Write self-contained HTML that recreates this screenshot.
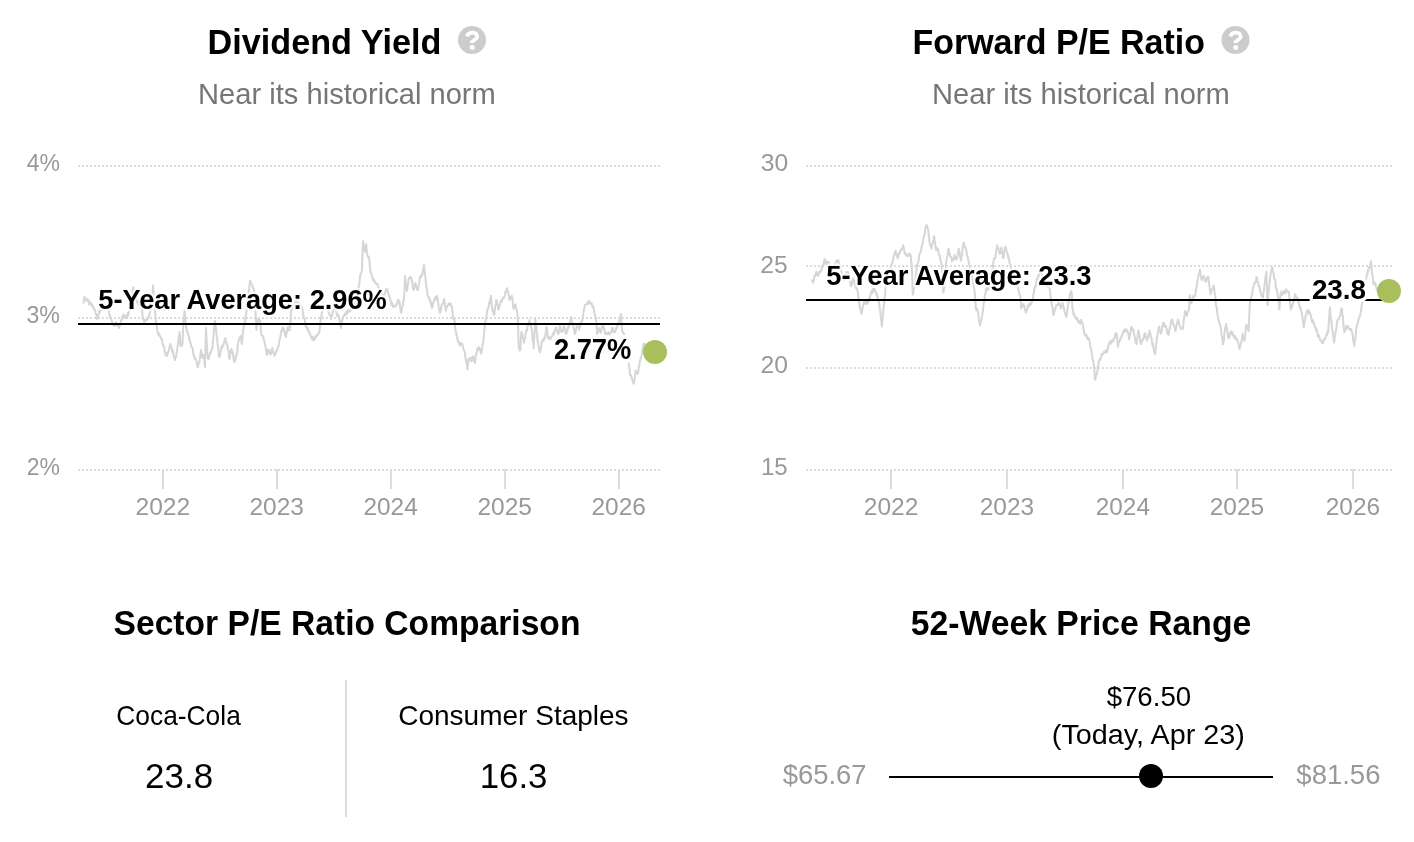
<!DOCTYPE html>
<html><head><meta charset="utf-8"><title>Valuation</title>
<style>
html,body{margin:0;padding:0;background:#fff;width:1414px;height:842px;overflow:hidden}
svg{display:block;font-family:"Liberation Sans", sans-serif;will-change:transform}
</style></head><body>
<svg width="1414" height="842" viewBox="0 0 1414 842">
<text x="207.6" y="53.8" font-size="35.7" font-weight="700" fill="#000" textLength="233.73" lengthAdjust="spacingAndGlyphs" >Dividend Yield</text>
<circle cx="472" cy="40" r="14" fill="#cccccc"/><path d="M467,36.4 C468.4,31.4 477.4,31.4 477.2,36.8 C477,39.6 471.8,40.2 471.8,43" fill="none" stroke="#fff" stroke-width="3.8" stroke-linecap="butt"/><circle cx="472.2" cy="47.5" r="2.5" fill="#fff"/>
<text x="198.09" y="104" font-size="29" font-weight="400" fill="#767676" textLength="297.75" lengthAdjust="spacingAndGlyphs" >Near its historical norm</text>
<line x1="78" y1="166" x2="660" y2="166" stroke="#dcdcdc" stroke-width="2" stroke-dasharray="2 2"/>
<text x="26.63" y="171.0" font-size="24.5" font-weight="400" fill="#999999" textLength="33.23" lengthAdjust="spacingAndGlyphs" >4%</text>
<line x1="78" y1="318" x2="660" y2="318" stroke="#dcdcdc" stroke-width="2" stroke-dasharray="2 2"/>
<text x="26.46" y="323.0" font-size="24.5" font-weight="400" fill="#999999" textLength="33.41" lengthAdjust="spacingAndGlyphs" >3%</text>
<line x1="78" y1="470" x2="660" y2="470" stroke="#dcdcdc" stroke-width="2" stroke-dasharray="2 2"/>
<text x="26.73" y="474.9" font-size="24.5" font-weight="400" fill="#999999" textLength="33.13" lengthAdjust="spacingAndGlyphs" >2%</text>
<rect x="162" y="469" width="2" height="20" fill="#dcdcdc"/>
<text x="135.44" y="514.9" font-size="24.5" font-weight="400" fill="#999999" textLength="54.83" lengthAdjust="spacingAndGlyphs" >2022</text>
<rect x="276" y="469" width="2" height="20" fill="#dcdcdc"/>
<text x="249.45" y="514.9" font-size="24.5" font-weight="400" fill="#999999" textLength="54.57" lengthAdjust="spacingAndGlyphs" >2023</text>
<rect x="390" y="469" width="2" height="20" fill="#dcdcdc"/>
<text x="363.45" y="514.9" font-size="24.5" font-weight="400" fill="#999999" textLength="54.31" lengthAdjust="spacingAndGlyphs" >2024</text>
<rect x="504" y="469" width="2" height="20" fill="#dcdcdc"/>
<text x="477.45" y="514.9" font-size="24.5" font-weight="400" fill="#999999" textLength="54.57" lengthAdjust="spacingAndGlyphs" >2025</text>
<rect x="618" y="469" width="2" height="20" fill="#dcdcdc"/>
<text x="591.45" y="514.9" font-size="24.5" font-weight="400" fill="#999999" textLength="54.57" lengthAdjust="spacingAndGlyphs" >2026</text>
<path d="M83.5,303.5 L84.0,299.0 L84.5,296.5 L85.0,297.8 L85.5,298.3 L86.0,300.0 L86.5,300.7 L87.0,301.0 L87.5,299.0 L88.0,301.0 L88.5,300.1 L89.0,304.3 L89.5,304.0 L90.0,302.7 L90.5,302.3 L91.0,303.0 L91.5,305.7 L92.0,304.4 L92.5,306.6 L93.0,306.0 L93.5,307.2 L94.0,309.2 L94.5,310.0 L95.0,309.7 L95.5,312.7 L96.0,314.8 L96.5,314.4 L97.0,319.0 L97.5,317.4 L98.0,316.6 L98.5,314.0 L98.9,313.9 L99.3,310.7 L99.8,312.6 L100.2,310.8 L100.7,310.4 L101.1,308.4 L101.6,306.5 L102.1,309.1 L102.5,306.7 L103.0,306.0 L103.5,307.1 L103.9,307.9 L104.4,307.4 L104.8,308.4 L105.3,306.5 L105.7,308.3 L106.2,307.1 L106.6,309.2 L107.1,309.2 L107.5,306.2 L108.0,308.0 L108.5,308.5 L108.9,310.9 L109.4,314.0 L109.8,317.1 L110.2,316.2 L110.6,318.3 L111.0,319.0 L111.5,319.5 L111.9,321.7 L112.4,323.0 L112.8,323.3 L113.2,323.9 L113.6,325.6 L114.0,326.0 L114.5,325.3 L115.0,325.6 L115.5,323.7 L116.0,322.0 L116.5,324.2 L117.0,324.4 L117.5,325.5 L118.0,324.0 L118.5,326.7 L119.0,328.0 L119.5,324.7 L120.0,325.4 L120.5,323.9 L121.0,320.0 L121.5,320.4 L122.0,317.8 L122.5,317.1 L123.0,315.0 L123.5,314.6 L124.0,317.8 L124.5,317.5 L125.0,318.0 L125.5,316.6 L126.0,315.3 L126.5,317.9 L127.0,316.0 L127.5,317.0 L128.0,312.4 L128.5,314.2 L129.0,312.0 L129.5,310.1 L130.0,309.0 L130.4,304.5 L130.9,302.0 L131.3,300.9 L131.7,298.2 L132.1,291.8 L132.6,291.0 L133.0,287.5 L133.5,287.2 L134.0,291.4 L134.4,291.3 L134.9,295.0 L135.4,295.0 L135.8,298.7 L136.2,298.5 L136.6,302.2 L137.0,302.0 L137.5,302.0 L138.0,301.8 L138.5,304.6 L139.0,305.0 L139.4,303.7 L139.9,304.9 L140.3,306.3 L140.7,307.7 L141.1,306.5 L141.6,306.6 L142.0,309.0 L142.5,315.5 L143.0,319.0 L143.5,318.8 L144.0,321.8 L144.5,322.1 L145.0,321.0 L145.4,320.1 L145.9,320.0 L146.3,319.8 L146.7,319.9 L147.1,319.2 L147.6,318.7 L148.0,318.0 L148.5,317.0 L149.0,316.8 L149.5,313.5 L150.0,312.0 L150.5,309.7 L150.9,308.9 L151.4,306.0 L151.8,299.8 L152.2,295.0 L152.6,292.5 L153.0,285.5 L153.5,292.1 L153.9,298.7 L154.4,305.0 L154.8,307.3 L155.2,313.2 L155.6,318.1 L156.0,322.0 L156.5,323.1 L157.0,328.0 L157.5,331.5 L158.0,334.0 L158.5,335.0 L159.0,333.2 L159.5,336.0 L160.0,336.0 L160.5,336.9 L161.0,338.7 L161.5,338.4 L162.0,340.0 L162.4,342.8 L162.9,345.0 L163.3,346.0 L163.7,345.6 L164.2,347.2 L164.6,351.2 L165.0,352.0 L165.5,354.9 L166.0,353.0 L166.5,354.8 L167.0,356.0 L167.5,354.9 L168.0,352.3 L168.5,351.0 L169.0,350.0 L169.4,347.3 L169.9,345.5 L170.3,344.0 L170.7,345.9 L171.2,346.2 L171.6,348.0 L172.0,350.0 L172.4,352.4 L172.9,350.8 L173.3,354.0 L173.7,355.8 L174.2,357.9 L174.6,357.7 L175.0,360.0 L175.5,356.9 L176.0,357.2 L176.5,353.0 L177.0,352.0 L177.5,346.7 L178.0,344.0 L178.5,339.7 L179.0,336.8 L179.5,332.0 L180.0,337.4 L180.5,346.0 L181.0,344.8 L181.5,344.3 L182.0,345.8 L182.5,344.0 L183.0,331.8 L183.5,320.0 L184.0,316.9 L184.5,311.0 L185.0,314.7 L185.5,320.3 L186.0,326.0 L186.5,328.6 L187.0,331.5 L187.5,331.8 L188.0,334.0 L188.5,334.9 L189.0,336.5 L189.5,340.1 L190.0,342.0 L190.5,342.0 L191.0,345.7 L191.5,347.1 L192.0,347.0 L192.5,348.0 L193.0,350.6 L193.5,355.0 L194.0,356.0 L194.5,357.6 L195.0,359.2 L195.5,358.4 L196.0,360.0 L196.5,360.9 L197.0,363.8 L197.5,367.0 L198.0,366.9 L198.5,363.6 L199.0,362.6 L199.5,362.0 L200.0,357.7 L200.5,353.7 L201.0,350.0 L201.5,352.3 L202.0,357.0 L202.5,358.0 L203.0,356.0 L203.5,354.7 L204.0,356.0 L204.5,363.3 L205.0,367.0 L205.5,349.0 L206.0,328.0 L206.5,338.6 L206.9,345.1 L207.4,354.0 L207.9,358.3 L208.4,359.0 L208.9,359.0 L209.4,354.4 L209.9,354.7 L210.4,352.0 L210.9,352.3 L211.4,350.7 L211.9,349.1 L212.4,348.0 L212.9,341.7 L213.4,337.0 L213.8,332.4 L214.2,327.9 L214.6,323.3 L215.0,321.0 L215.5,325.4 L215.9,328.1 L216.4,333.0 L216.8,337.7 L217.2,338.2 L217.6,345.1 L218.0,347.0 L218.5,351.1 L218.9,355.4 L219.4,357.0 L219.8,356.6 L220.2,354.6 L220.6,351.3 L221.0,349.0 L221.5,346.3 L222.0,348.5 L222.5,345.4 L223.0,346.0 L223.5,343.6 L224.0,343.5 L224.4,341.3 L224.9,339.3 L225.4,338.0 L225.8,341.5 L226.2,341.9 L226.6,342.6 L227.0,345.0 L227.5,345.7 L227.9,349.8 L228.4,350.0 L228.9,354.4 L229.4,359.0 L229.9,357.6 L230.4,353.4 L230.9,350.3 L231.4,349.0 L231.8,350.4 L232.2,352.8 L232.6,351.4 L233.0,354.0 L233.5,357.8 L233.9,361.0 L234.4,362.0 L234.9,361.7 L235.4,360.3 L235.9,355.5 L236.4,356.0 L236.9,353.0 L237.4,350.5 L237.9,343.7 L238.4,342.0 L238.9,339.6 L239.4,338.1 L239.9,337.6 L240.4,336.0 L240.8,337.7 L241.2,339.9 L241.6,343.1 L242.0,344.0 L242.5,336.0 L243.0,332.0 L243.5,328.0 L244.0,326.0 L244.5,323.7 L245.0,323.0 L245.5,316.8 L246.0,314.0 L246.5,311.6 L246.9,306.8 L247.4,301.0 L247.8,296.6 L248.2,295.5 L248.6,292.0 L249.0,290.0 L249.6,284.5 L250.1,280.5 L250.5,281.0 L251.0,283.4 L251.4,284.3 L251.8,284.5 L252.2,285.0 L252.7,286.7 L253.1,288.5 L253.6,288.2 L254.0,291.0 L254.5,297.6 L254.9,304.5 L255.4,310.0 L255.9,319.5 L256.4,330.0 L256.8,325.6 L257.2,323.2 L257.6,321.2 L258.0,319.0 L258.5,319.7 L259.0,320.6 L259.5,319.3 L260.0,320.0 L260.5,326.2 L260.9,330.5 L261.4,335.0 L261.9,335.2 L262.4,335.5 L262.9,336.5 L263.4,337.0 L263.9,340.1 L264.4,341.2 L264.9,344.5 L265.4,346.0 L265.9,348.8 L266.3,351.0 L266.8,355.0 L267.3,353.9 L267.8,353.3 L268.3,349.5 L268.8,350.0 L269.3,350.7 L269.8,351.7 L270.3,354.5 L270.8,354.0 L271.3,353.7 L271.8,349.5 L272.3,348.0 L272.7,351.2 L273.2,352.4 L273.6,351.8 L274.1,354.3 L274.5,356.0 L275.0,353.0 L275.5,354.3 L276.0,352.1 L276.5,350.0 L276.9,350.5 L277.3,349.2 L277.8,347.7 L278.2,346.9 L278.6,345.3 L279.0,344.0 L279.5,339.7 L280.0,339.0 L280.5,336.0 L281.0,332.0 L281.5,330.6 L282.0,331.1 L282.5,328.0 L283.0,327.2 L283.5,328.4 L284.0,331.0 L284.5,330.9 L285.0,335.5 L285.5,334.2 L286.0,337.0 L286.5,332.1 L287.0,332.4 L287.5,328.0 L288.0,327.0 L288.5,330.4 L289.0,330.2 L289.5,330.0 L290.0,327.3 L290.5,322.0 L291.0,310.0 L291.4,311.1 L291.9,308.9 L292.3,309.1 L292.7,305.3 L293.1,307.5 L293.6,305.8 L294.0,305.0 L294.5,304.9 L295.0,301.4 L295.5,303.0 L296.0,301.0 L296.5,303.1 L297.0,300.0 L297.4,301.5 L297.9,302.9 L298.4,303.0 L298.8,304.9 L299.3,303.2 L299.8,303.6 L300.2,304.5 L300.6,306.6 L301.1,307.8 L301.6,306.9 L302.0,308.0 L302.5,310.1 L302.9,312.9 L303.4,316.0 L303.8,316.9 L304.2,318.7 L304.6,318.8 L305.0,322.0 L305.5,323.5 L306.0,326.9 L306.5,326.2 L307.0,328.0 L307.5,329.8 L308.0,328.2 L308.4,331.2 L308.9,332.2 L309.4,332.0 L309.8,333.9 L310.2,334.6 L310.6,335.7 L311.0,337.0 L311.4,337.9 L311.9,339.2 L312.3,336.5 L312.7,336.5 L313.1,339.4 L313.6,340.4 L314.0,339.0 L314.4,338.6 L314.9,337.9 L315.3,338.6 L315.7,336.0 L316.1,335.9 L316.6,335.2 L317.0,336.0 L317.5,335.6 L318.0,333.8 L318.5,332.7 L319.0,333.0 L319.5,330.1 L319.9,327.5 L320.4,322.0 L320.8,318.7 L321.2,317.8 L321.6,314.2 L322.0,312.0 L322.5,311.7 L323.0,308.8 L323.5,305.8 L324.0,305.0 L324.5,304.9 L325.0,305.1 L325.5,307.9 L326.0,309.0 L326.4,308.8 L326.9,308.3 L327.3,309.3 L327.7,309.4 L328.1,311.5 L328.6,309.3 L329.0,311.0 L329.5,315.0 L330.0,314.9 L330.5,317.4 L331.0,319.0 L331.5,316.6 L332.0,315.8 L332.5,313.5 L333.0,310.0 L333.5,309.5 L334.0,308.4 L334.5,308.6 L335.0,307.0 L335.5,310.2 L336.0,310.1 L336.5,313.2 L337.0,314.0 L337.5,316.6 L338.0,315.4 L338.5,315.2 L339.0,317.0 L339.5,318.7 L340.0,323.4 L340.5,326.0 L341.0,328.0 L341.5,325.8 L342.0,320.0 L342.5,320.4 L343.0,317.0 L343.5,315.8 L344.0,316.0 L344.4,314.5 L344.9,313.6 L345.3,315.1 L345.7,315.1 L346.1,314.7 L346.6,311.6 L347.0,312.0 L347.4,313.2 L347.9,310.7 L348.3,310.8 L348.7,311.8 L349.1,308.9 L349.6,308.7 L350.0,310.0 L350.4,311.2 L350.9,308.9 L351.3,309.0 L351.7,309.7 L352.1,310.0 L352.6,307.2 L353.0,309.0 L353.4,307.1 L353.9,306.2 L354.3,305.1 L354.7,302.7 L355.1,302.9 L355.6,303.1 L356.0,300.0 L356.5,297.1 L357.0,295.2 L357.5,291.0 L358.0,290.0 L358.5,287.1 L359.0,286.0 L359.5,282.7 L360.0,276.5 L360.5,274.0 L361.0,273.9 L361.5,272.3 L362.0,269.0 L362.5,253.4 L363.0,241.0 L363.5,245.5 L364.0,246.0 L364.5,250.3 L365.0,252.0 L365.5,249.0 L366.0,244.0 L366.5,247.2 L367.0,252.7 L367.5,256.0 L368.0,256.9 L368.5,257.9 L369.0,257.0 L369.5,261.6 L370.0,268.0 L370.5,271.0 L371.0,273.8 L371.5,274.0 L372.0,276.7 L372.5,278.1 L373.0,280.0 L373.5,279.0 L374.0,281.0 L374.5,280.9 L375.0,282.0 L375.5,283.4 L376.0,283.7 L376.5,283.8 L377.0,284.0 L377.5,283.7 L377.9,286.6 L378.4,287.0 L378.8,288.8 L379.2,288.2 L379.6,292.3 L380.0,292.0 L380.4,293.1 L380.9,291.4 L381.3,295.1 L381.8,292.3 L382.2,293.5 L382.7,295.5 L383.1,295.5 L383.6,295.8 L384.0,296.0 L384.4,295.6 L384.9,293.8 L385.3,292.2 L385.7,290.7 L386.1,289.3 L386.6,290.9 L387.0,289.0 L387.5,291.5 L388.0,292.2 L388.5,294.5 L389.0,295.0 L389.5,296.4 L390.0,298.1 L390.5,300.5 L391.0,303.0 L391.4,305.1 L391.9,302.3 L392.3,304.7 L392.7,304.3 L393.1,306.9 L393.6,305.8 L394.0,307.0 L394.5,305.9 L395.0,305.8 L395.4,306.0 L395.9,306.5 L396.4,305.0 L396.9,303.2 L397.4,303.9 L397.9,299.7 L398.4,300.0 L398.8,300.6 L399.2,301.4 L399.6,303.0 L400.0,306.0 L400.5,310.6 L401.0,313.0 L401.5,311.9 L402.0,307.7 L402.5,305.8 L403.0,305.0 L403.5,301.0 L403.9,298.6 L404.4,294.0 L405.0,276.0 L405.5,281.0 L406.0,284.5 L406.5,287.6 L407.0,291.0 L407.5,286.3 L408.0,284.1 L408.5,280.0 L409.0,278.0 L409.5,278.1 L410.0,278.3 L410.4,276.8 L410.9,277.0 L411.4,278.0 L411.9,282.1 L412.4,282.1 L412.9,288.2 L413.4,290.0 L413.9,289.8 L414.4,288.3 L414.9,284.3 L415.4,283.0 L415.8,284.4 L416.3,285.7 L416.7,287.0 L417.1,289.6 L417.6,289.6 L418.0,290.0 L418.5,285.9 L419.0,284.9 L419.5,280.2 L420.0,277.0 L420.5,277.2 L421.0,277.4 L421.5,274.3 L422.0,276.0 L422.5,274.3 L423.0,271.1 L423.5,267.7 L424.0,265.0 L424.5,269.8 L425.0,274.3 L425.5,278.0 L426.0,284.0 L426.5,287.8 L426.9,289.5 L427.4,295.0 L427.8,295.7 L428.3,296.9 L428.7,296.8 L429.1,297.9 L429.6,300.2 L430.0,299.0 L430.5,302.8 L431.0,302.0 L431.5,306.9 L432.0,308.0 L432.5,306.7 L433.0,302.7 L433.5,302.2 L434.0,301.0 L434.4,299.2 L434.9,297.9 L435.3,299.0 L435.7,299.9 L436.1,296.7 L436.6,298.2 L437.0,296.0 L437.5,299.4 L437.9,299.9 L438.4,304.0 L438.8,307.7 L439.2,308.9 L439.6,312.5 L440.0,313.0 L440.5,311.6 L441.0,309.5 L441.5,305.6 L442.0,304.0 L442.5,304.0 L443.0,303.2 L443.5,301.7 L444.0,299.0 L444.5,301.7 L445.0,305.9 L445.5,307.7 L446.0,310.7 L446.4,308.1 L446.9,306.8 L447.3,305.8 L447.8,305.3 L448.2,305.4 L448.6,303.6 L449.0,304.5 L449.5,304.9 L449.9,303.8 L450.3,303.2 L450.7,304.0 L451.1,305.9 L451.6,305.6 L452.0,307.5 L452.5,312.1 L453.0,317.0 L453.4,319.1 L453.8,318.8 L454.2,319.0 L454.6,321.4 L455.1,327.8 L455.7,331.0 L456.1,333.8 L456.5,334.3 L457.0,336.2 L457.4,338.8 L457.8,340.6 L458.2,342.1 L458.6,341.7 L459.0,341.9 L459.4,345.0 L459.8,343.6 L460.3,345.7 L460.7,342.9 L461.2,343.9 L461.6,343.8 L462.0,343.6 L462.4,344.7 L462.8,345.6 L463.2,348.0 L463.6,349.3 L464.0,350.1 L464.5,351.3 L464.9,353.3 L465.3,356.6 L465.7,357.9 L466.1,361.7 L466.6,362.6 L467.0,365.0 L467.4,369.5 L467.9,363.9 L468.5,358.8 L468.9,358.8 L469.4,360.3 L469.9,358.1 L470.3,359.9 L470.8,360.2 L471.2,361.0 L471.6,358.0 L472.0,360.7 L472.4,356.6 L472.8,356.6 L473.2,356.3 L473.6,359.1 L474.1,359.1 L474.5,362.2 L474.9,363.0 L475.3,359.8 L475.7,356.4 L476.2,353.5 L476.6,353.7 L477.0,350.2 L477.4,348.5 L477.9,349.8 L478.3,347.7 L478.7,347.0 L479.1,349.8 L479.6,348.3 L480.0,349.2 L480.4,350.3 L480.9,353.6 L481.3,353.4 L481.7,351.5 L482.1,348.0 L482.5,344.6 L482.9,343.8 L483.3,340.8 L483.7,338.2 L484.1,333.0 L484.5,328.9 L484.9,324.5 L485.3,322.2 L485.7,320.1 L486.1,319.3 L486.5,315.6 L486.9,312.6 L487.3,310.2 L487.7,309.6 L488.2,308.2 L488.6,307.3 L489.1,302.5 L489.6,303.6 L490.1,299.7 L490.5,299.0 L491.0,295.8 L491.5,302.4 L492.0,307.5 L492.5,310.7 L492.9,309.9 L493.3,312.1 L493.7,314.4 L494.1,315.0 L494.5,313.8 L495.0,307.4 L495.4,305.2 L495.9,304.4 L496.3,300.0 L496.7,300.4 L497.1,303.4 L497.6,305.1 L498.0,308.4 L498.4,309.6 L498.8,309.6 L499.3,304.9 L499.7,305.5 L500.2,303.7 L500.6,301.1 L501.1,302.0 L501.5,300.4 L502.0,301.4 L502.4,298.7 L502.9,298.5 L503.3,297.3 L503.8,297.9 L504.3,297.6 L504.7,295.1 L505.2,292.9 L505.6,291.1 L506.1,291.9 L506.5,290.1 L507.0,288.3 L507.4,291.1 L507.9,291.7 L508.3,294.1 L508.7,294.7 L509.2,298.9 L509.6,300.0 L510.0,297.3 L510.5,298.2 L510.9,298.5 L511.4,297.3 L511.8,295.8 L512.2,297.4 L512.6,301.1 L513.0,306.8 L513.4,308.6 L513.8,308.3 L514.2,308.4 L514.7,307.5 L515.1,305.0 L515.5,304.3 L515.9,308.0 L516.3,309.5 L516.8,310.1 L517.2,312.3 L517.6,315.0 L518.2,329.3 L518.7,347.0 L519.1,347.4 L519.5,350.4 L519.9,347.8 L520.3,350.2 L520.8,341.4 L521.4,332.0 L521.8,332.2 L522.3,333.9 L522.7,338.0 L523.1,338.2 L523.6,339.2 L524.0,342.8 L524.4,339.3 L524.9,339.1 L525.3,336.7 L525.8,332.2 L526.2,332.0 L526.7,329.2 L527.1,330.5 L527.6,325.9 L528.0,325.6 L528.5,323.3 L528.9,323.1 L529.4,320.3 L529.8,322.4 L530.2,324.9 L530.7,325.6 L531.1,325.9 L531.5,328.9 L531.9,331.5 L532.4,334.9 L532.8,341.7 L533.3,342.7 L533.7,348.1 L534.1,339.0 L534.5,335.6 L534.9,325.3 L535.3,319.3 L535.8,324.8 L536.2,325.5 L536.6,330.9 L537.1,333.9 L537.5,340.2 L538.0,342.8 L538.4,345.2 L538.8,347.2 L539.3,349.6 L539.7,352.0 L540.1,352.4 L540.5,349.4 L540.9,348.1 L541.4,345.1 L541.8,341.4 L542.2,340.6 L542.7,341.5 L543.1,340.1 L543.6,340.6 L544.1,337.7 L544.5,338.6 L545.0,338.0 L545.5,334.2 L546.0,331.6 L546.5,327.0 L547.0,329.0 L547.5,333.7 L548.0,338.0 L548.5,338.2 L549.0,336.8 L549.5,339.0 L550.0,339.0 L550.5,339.2 L551.0,337.2 L551.5,337.3 L552.0,336.0 L552.5,335.6 L552.9,333.3 L553.4,333.0 L553.8,334.8 L554.2,331.3 L554.7,330.9 L555.1,328.7 L555.6,328.5 L556.0,327.5 L556.5,328.0 L557.0,331.7 L557.5,332.9 L558.0,334.0 L558.5,333.5 L559.0,331.9 L559.5,328.4 L560.0,326.0 L560.5,329.7 L561.0,330.1 L561.5,332.0 L561.9,330.7 L562.3,331.8 L562.8,330.6 L563.2,329.8 L563.6,326.9 L564.0,326.0 L564.5,328.8 L565.0,329.1 L565.5,333.2 L566.0,333.0 L566.4,333.7 L566.9,330.2 L567.3,331.7 L567.7,327.7 L568.1,326.4 L568.6,327.9 L569.0,326.0 L569.5,322.9 L570.0,321.6 L570.5,319.8 L571.0,317.0 L571.5,317.4 L572.0,322.5 L572.5,322.9 L573.0,326.0 L573.5,327.7 L574.0,329.4 L574.5,333.0 L575.0,334.0 L575.5,333.0 L576.0,329.1 L576.5,326.4 L577.0,326.0 L577.5,326.2 L578.0,327.6 L578.5,327.3 L579.0,330.0 L579.5,326.6 L580.0,327.1 L580.5,324.8 L581.0,322.0 L581.5,322.4 L582.0,320.9 L582.5,319.0 L583.0,316.0 L583.5,312.7 L584.0,309.1 L584.5,307.0 L585.0,305.0 L585.5,304.6 L586.0,304.6 L586.5,304.4 L587.0,304.0 L587.5,302.7 L588.0,303.9 L588.5,300.9 L589.0,301.0 L589.5,301.4 L590.0,303.5 L590.5,303.7 L591.0,303.0 L591.5,303.2 L592.0,304.0 L592.5,307.2 L593.0,307.0 L593.5,307.0 L593.9,309.5 L594.4,313.0 L594.8,314.6 L595.2,316.1 L595.6,316.2 L596.0,319.0 L596.5,324.7 L597.0,334.0 L597.5,331.3 L598.0,332.1 L598.5,329.4 L599.0,328.0 L599.5,330.9 L600.0,331.1 L600.5,332.9 L601.0,332.0 L601.5,328.4 L602.0,327.2 L602.5,324.8 L603.0,325.0 L603.5,327.0 L604.0,328.9 L604.5,330.0 L605.0,334.0 L605.5,334.2 L605.9,332.4 L606.4,333.2 L606.8,333.0 L607.3,335.2 L607.7,333.7 L608.2,333.0 L608.6,332.2 L609.1,333.7 L609.5,334.5 L610.0,334.0 L610.5,333.2 L611.0,332.7 L611.5,330.7 L612.0,328.0 L612.5,327.8 L613.0,328.1 L613.4,331.4 L613.9,332.4 L614.4,332.0 L614.8,331.4 L615.3,332.0 L615.7,330.2 L616.1,328.5 L616.6,327.3 L617.0,328.0 L617.5,324.3 L618.0,325.1 L618.5,324.3 L619.0,321.0 L619.5,320.9 L620.0,317.4 L620.5,316.4 L621.0,314.0 L621.5,323.7 L622.0,330.0 L622.5,332.3 L623.0,332.4 L623.5,332.7 L624.0,334.0 L624.4,336.4 L624.9,337.3 L625.3,339.6 L625.7,343.9 L626.1,347.4 L626.6,347.9 L627.0,350.0 L627.4,353.0 L627.9,356.1 L628.3,359.8 L628.7,363.3 L629.2,367.6 L629.6,369.4 L630.0,374.5 L630.5,375.8 L630.9,375.3 L631.4,376.8 L631.8,378.6 L632.2,379.0 L632.7,381.6 L633.1,382.4 L633.6,383.7 L634.0,382.9 L634.5,380.2 L634.9,374.8 L635.3,373.9 L635.8,370.5 L636.2,371.6 L636.7,372.2 L637.1,372.2 L637.6,374.0 L638.0,372.5 L638.5,370.9 L639.0,365.3 L639.4,365.2 L639.8,361.7 L640.3,359.8 L640.7,357.8 L641.2,357.4 L641.6,355.6 L642.0,352.3 L642.5,348.5 L642.9,349.4 L643.4,344.4 L643.8,343.7 L644.2,343.7 L644.7,345.9 L645.1,344.3 L645.6,344.6 L646.0,347.7 L646.5,348.2 L646.9,346.1 L647.3,346.9 L647.8,346.9 L648.2,346.7 L648.7,347.7 L649.1,351.0 L649.6,347.9 L650.0,350.0 L650.5,349.1 L650.9,349.2 L651.4,348.9 L651.8,350.8 L652.3,351.9 L652.7,352.4 L653.2,351.8 L653.6,352.7 L654.1,349.7 L654.5,350.9 L655.0,352.0" fill="none" stroke="#d6d6d6" stroke-width="2" stroke-linejoin="round"/>
<rect x="78" y="323" width="582" height="2" fill="#000"/>
<text x="98.35" y="308.8" font-size="28.5" font-weight="700" fill="#000" textLength="288.45" lengthAdjust="spacingAndGlyphs" stroke="#fff" stroke-opacity="0.7" stroke-width="5" paint-order="stroke" stroke-linejoin="round">5-Year Average: 2.96%</text>
<text x="553.91" y="359.4" font-size="29" font-weight="700" fill="#000" textLength="77.38" lengthAdjust="spacingAndGlyphs" stroke="#fff" stroke-width="8" paint-order="stroke" stroke-linejoin="round">2.77%</text>
<circle cx="655" cy="352" r="12" fill="#a9bf5c"/>
<text x="912.47" y="53.8" font-size="35.7" font-weight="700" fill="#000" textLength="292.52" lengthAdjust="spacingAndGlyphs" >Forward P/E Ratio</text>
<circle cx="1235.5" cy="40" r="14" fill="#cccccc"/><path d="M1230.5,36.4 C1231.9,31.4 1240.9,31.4 1240.7,36.8 C1240.5,39.6 1235.3,40.2 1235.3,43" fill="none" stroke="#fff" stroke-width="3.8" stroke-linecap="butt"/><circle cx="1235.7" cy="47.5" r="2.5" fill="#fff"/>
<text x="931.99" y="104" font-size="29" font-weight="400" fill="#767676" textLength="297.85" lengthAdjust="spacingAndGlyphs" >Near its historical norm</text>
<line x1="806" y1="166" x2="1392" y2="166" stroke="#dcdcdc" stroke-width="2" stroke-dasharray="2 2"/>
<text x="760.69" y="171.0" font-size="24.5" font-weight="400" fill="#999999" textLength="27.43" lengthAdjust="spacingAndGlyphs" >30</text>
<line x1="806" y1="266" x2="1392" y2="266" stroke="#dcdcdc" stroke-width="2" stroke-dasharray="2 2"/>
<text x="760.35" y="272.9" font-size="24.5" font-weight="400" fill="#999999" textLength="27.37" lengthAdjust="spacingAndGlyphs" >25</text>
<line x1="806" y1="368" x2="1392" y2="368" stroke="#dcdcdc" stroke-width="2" stroke-dasharray="2 2"/>
<text x="760.54" y="372.9" font-size="24.5" font-weight="400" fill="#999999" textLength="27.48" lengthAdjust="spacingAndGlyphs" >20</text>
<line x1="806" y1="470" x2="1392" y2="470" stroke="#dcdcdc" stroke-width="2" stroke-dasharray="2 2"/>
<text x="760.88" y="475.0" font-size="24.5" font-weight="400" fill="#999999" textLength="26.82" lengthAdjust="spacingAndGlyphs" >15</text>
<rect x="890" y="469" width="2" height="20" fill="#dcdcdc"/>
<text x="863.75" y="514.9" font-size="24.5" font-weight="400" fill="#999999" textLength="54.73" lengthAdjust="spacingAndGlyphs" >2022</text>
<rect x="1006" y="469" width="2" height="20" fill="#dcdcdc"/>
<text x="979.75" y="514.9" font-size="24.5" font-weight="400" fill="#999999" textLength="54.46" lengthAdjust="spacingAndGlyphs" >2023</text>
<rect x="1122" y="469" width="2" height="20" fill="#dcdcdc"/>
<text x="1095.76" y="514.9" font-size="24.5" font-weight="400" fill="#999999" textLength="54.2" lengthAdjust="spacingAndGlyphs" >2024</text>
<rect x="1236" y="469" width="2" height="20" fill="#dcdcdc"/>
<text x="1209.75" y="514.9" font-size="24.5" font-weight="400" fill="#999999" textLength="54.46" lengthAdjust="spacingAndGlyphs" >2025</text>
<rect x="1352" y="469" width="2" height="20" fill="#dcdcdc"/>
<text x="1325.75" y="514.9" font-size="24.5" font-weight="400" fill="#999999" textLength="54.46" lengthAdjust="spacingAndGlyphs" >2026</text>
<path d="M811.9,279.5 L812.5,281.6 L813.0,282.7 L813.5,281.2 L814.0,278.9 L814.5,275.3 L814.9,276.6 L815.4,275.4 L815.8,275.7 L816.3,271.7 L816.7,273.1 L817.1,273.2 L817.5,275.3 L818.0,274.4 L818.4,275.6 L818.8,274.2 L819.2,272.0 L819.7,272.8 L820.1,271.3 L820.6,271.8 L821.0,271.0 L821.4,270.2 L821.8,266.9 L822.2,266.6 L822.6,266.7 L823.0,264.3 L823.4,265.4 L823.9,263.3 L824.3,259.3 L824.7,259.2 L825.1,261.7 L825.5,260.5 L825.9,263.7 L826.3,264.6 L826.7,262.7 L827.1,261.7 L827.6,264.8 L828.0,261.7 L828.4,262.4 L828.9,262.2 L829.3,266.2 L829.8,266.7 L830.2,265.4 L830.6,269.0 L831.1,268.3 L831.5,269.8 L832.0,270.0 L832.5,268.1 L832.9,270.2 L833.4,268.5 L833.8,268.8 L834.3,267.7 L834.8,264.6 L835.2,264.1 L835.7,262.5 L836.1,261.7 L836.6,260.6 L837.0,260.8 L837.5,260.8 L837.9,262.0 L838.4,260.3 L838.8,263.8 L839.3,263.2 L839.7,264.6 L840.1,265.7 L840.5,269.6 L840.9,270.1 L841.3,272.0 L841.8,272.5 L842.2,274.4 L842.7,276.5 L843.1,275.1 L843.6,280.0 L844.0,277.5 L844.5,280.6 L844.9,279.9 L845.3,278.5 L845.8,273.5 L846.2,274.9 L846.6,272.0 L847.0,272.1 L847.4,273.6 L847.9,272.0 L848.3,272.8 L848.7,275.3 L849.1,276.2 L849.6,281.4 L850.0,280.5 L850.5,284.9 L850.9,286.0 L851.3,286.2 L851.7,284.8 L852.2,280.9 L852.6,279.4 L853.0,278.5 L853.4,279.9 L853.8,282.2 L854.3,280.8 L854.7,284.6 L855.1,284.9 L855.5,286.9 L856.0,288.0 L856.4,285.6 L856.9,290.0 L857.3,289.1 L857.8,291.8 L858.4,297.7 L858.9,300.3 L859.4,304.1 L859.8,306.5 L860.3,309.6 L860.7,309.2 L861.2,313.5 L861.6,313.7 L862.0,312.0 L862.4,309.1 L862.9,307.2 L863.3,304.7 L863.7,304.1 L864.1,301.8 L864.5,301.4 L865.0,302.9 L865.4,303.5 L865.8,300.9 L866.2,300.0 L866.7,299.9 L867.1,304.1 L867.6,302.7 L868.0,303.0 L868.4,301.1 L868.8,299.0 L869.3,298.9 L869.7,298.4 L870.1,295.6 L870.5,294.6 L870.9,293.6 L871.4,291.2 L871.8,293.8 L872.2,291.3 L872.7,289.1 L873.1,290.5 L873.5,291.6 L874.0,288.4 L874.5,290.4 L874.9,289.1 L875.3,292.2 L875.7,292.2 L876.2,294.2 L876.6,292.7 L877.0,295.6 L877.4,296.7 L877.8,296.8 L878.2,301.0 L878.6,300.9 L879.0,302.5 L879.5,305.5 L879.9,310.1 L880.3,310.5 L880.7,315.9 L881.1,320.4 L881.5,322.3 L881.9,326.5 L882.3,321.9 L882.7,318.4 L883.1,312.8 L883.5,308.4 L883.9,304.4 L884.3,301.6 L884.7,297.4 L885.1,295.6 L885.6,284.9 L886.0,282.8 L886.5,283.6 L886.9,281.9 L887.3,279.0 L887.7,276.8 L888.1,274.6 L888.6,272.0 L889.0,272.0 L889.4,269.9 L889.8,270.7 L890.2,269.8 L890.7,266.5 L891.1,267.0 L891.5,264.6 L891.9,264.2 L892.3,262.4 L892.8,260.8 L893.2,259.6 L893.6,257.1 L894.0,255.3 L894.4,255.4 L894.9,252.4 L895.3,251.9 L895.7,250.7 L896.1,253.3 L896.6,254.5 L897.0,254.4 L897.5,258.5 L897.9,258.2 L898.3,257.5 L898.7,256.0 L899.2,252.4 L899.6,253.3 L900.0,251.8 L900.5,249.9 L900.9,250.6 L901.4,248.9 L901.8,249.4 L902.3,247.7 L902.7,247.4 L903.2,245.3 L903.6,246.5 L904.0,249.4 L904.5,251.6 L904.9,253.7 L905.3,254.2 L905.8,253.6 L906.2,255.6 L906.7,255.7 L907.1,255.0 L907.6,256.1 L908.0,256.0 L908.5,254.2 L908.9,254.5 L909.4,254.8 L909.8,253.5 L910.3,256.4 L910.7,255.3 L911.2,261.8 L911.8,264.9 L912.3,279.8 L912.8,294.8 L913.2,292.8 L913.7,290.1 L914.1,287.4 L914.6,282.4 L915.0,280.9 L915.4,278.8 L915.8,274.8 L916.3,272.0 L916.7,267.8 L917.1,264.9 L917.6,263.7 L918.0,262.6 L918.5,260.4 L918.9,259.0 L919.4,254.6 L919.8,253.4 L920.3,253.1 L920.8,250.9 L921.2,249.8 L921.6,246.1 L922.1,246.0 L922.5,243.9 L923.0,241.4 L923.4,238.0 L923.8,238.1 L924.2,235.5 L924.6,235.0 L925.0,230.8 L925.4,228.7 L925.8,227.0 L926.2,225.3 L926.6,225.1 L927.0,226.2 L927.5,226.7 L927.9,229.5 L928.3,230.7 L928.8,235.6 L929.4,241.4 L929.8,243.4 L930.2,245.0 L930.6,245.2 L931.0,247.8 L931.4,248.6 L931.8,244.2 L932.2,245.0 L932.6,244.6 L933.0,241.6 L933.4,239.9 L933.8,236.6 L934.2,236.0 L934.6,240.8 L935.0,242.4 L935.4,244.6 L935.8,249.9 L936.2,250.1 L936.6,247.8 L937.1,249.4 L937.5,248.4 L937.9,248.8 L938.3,250.7 L938.7,253.9 L939.1,254.9 L939.5,255.3 L939.9,256.9 L940.4,260.4 L940.8,261.6 L941.3,262.5 L941.7,264.9 L942.1,270.4 L942.5,279.1 L942.9,285.9 L943.3,292.6 L943.7,291.5 L944.1,288.6 L944.5,284.3 L944.9,280.9 L945.3,275.2 L945.7,272.3 L946.1,263.7 L946.5,260.6 L946.9,256.7 L947.3,256.1 L947.8,254.0 L948.2,249.7 L948.6,248.8 L949.0,251.2 L949.4,254.1 L949.8,253.9 L950.2,256.3 L950.6,256.9 L951.1,256.9 L951.5,258.0 L952.0,261.6 L952.4,260.6 L952.8,259.1 L953.2,260.3 L953.7,259.1 L954.1,256.7 L954.5,255.3 L954.9,255.2 L955.3,258.9 L955.8,257.8 L956.2,258.3 L956.6,259.5 L957.0,256.6 L957.5,257.2 L957.9,253.0 L958.4,250.1 L958.8,248.8 L959.2,251.1 L959.6,252.0 L960.1,256.4 L960.5,258.0 L960.9,260.6 L961.4,256.7 L961.8,255.7 L962.2,252.8 L962.7,246.5 L963.1,245.6 L963.6,242.4 L964.0,242.8 L964.4,246.7 L964.9,247.4 L965.3,246.5 L965.7,248.8 L966.1,249.5 L966.5,250.7 L966.9,255.6 L967.3,255.3 L967.7,256.4 L968.1,259.6 L968.6,261.0 L969.0,263.6 L969.4,264.9 L969.8,267.5 L970.3,270.2 L970.7,269.8 L971.2,274.5 L971.6,275.6 L972.0,276.9 L972.4,280.0 L972.8,281.3 L973.2,284.1 L973.6,285.4 L974.0,288.5 L974.4,290.3 L974.8,292.6 L975.3,299.9 L975.9,308.4 L976.3,310.2 L976.7,310.4 L977.2,309.1 L977.6,310.8 L978.0,312.6 L978.4,315.0 L978.8,319.4 L979.3,321.9 L979.7,323.1 L980.1,325.5 L980.5,321.4 L981.0,322.3 L981.4,318.8 L981.9,317.2 L982.3,314.8 L982.7,312.4 L983.1,308.9 L983.5,305.1 L983.9,302.0 L984.3,301.1 L984.7,296.4 L985.2,293.8 L985.6,293.1 L986.0,289.1 L986.5,287.7 L986.9,288.0 L987.4,289.9 L987.8,286.7 L988.2,289.6 L988.7,288.1 L989.2,287.1 L989.6,284.3 L990.0,281.9 L990.5,282.1 L991.0,280.8 L991.4,277.4 L991.8,272.8 L992.2,270.9 L992.7,268.0 L993.1,264.6 L993.5,261.4 L993.9,259.6 L994.3,257.9 L994.8,258.5 L995.2,258.3 L995.6,256.0 L996.0,251.6 L996.4,249.6 L996.8,249.3 L997.2,245.3 L997.6,248.0 L998.1,249.0 L998.5,247.9 L999.0,252.2 L999.4,252.8 L999.8,253.9 L1000.2,253.1 L1000.7,251.0 L1001.1,247.6 L1001.5,248.5 L1001.9,252.3 L1002.3,252.2 L1002.7,256.4 L1003.1,258.2 L1003.5,257.6 L1004.0,254.3 L1004.4,249.7 L1004.9,247.9 L1005.3,246.4 L1005.7,249.6 L1006.1,248.0 L1006.6,251.3 L1007.0,252.1 L1007.4,253.9 L1007.8,254.2 L1008.2,257.8 L1008.7,257.2 L1009.1,259.1 L1009.5,262.4 L1009.9,263.8 L1010.4,264.5 L1010.8,266.4 L1011.3,270.4 L1011.7,272.0 L1012.2,274.0 L1012.6,275.7 L1013.1,273.8 L1013.5,276.0 L1014.0,276.6 L1014.4,278.8 L1014.9,279.5 L1015.3,280.7 L1015.8,283.8 L1016.2,282.7 L1016.6,282.7 L1017.1,286.5 L1017.5,287.0 L1018.0,287.0 L1018.4,290.4 L1018.9,291.3 L1019.3,294.4 L1019.8,294.4 L1020.2,295.6 L1020.8,302.5 L1021.3,308.4 L1021.7,306.6 L1022.1,306.9 L1022.6,304.8 L1023.0,306.0 L1023.4,304.1 L1023.8,305.9 L1024.3,306.0 L1024.7,308.1 L1025.2,310.4 L1025.6,312.6 L1026.0,312.5 L1026.5,309.2 L1026.9,310.3 L1027.3,309.0 L1027.8,305.6 L1028.2,306.2 L1028.7,306.5 L1029.1,303.9 L1029.6,303.6 L1030.0,305.2 L1030.5,303.4 L1030.9,304.1 L1031.3,304.3 L1031.7,301.5 L1032.2,299.6 L1032.6,300.2 L1033.0,297.7 L1033.4,293.5 L1033.9,293.9 L1034.3,288.9 L1034.8,286.9 L1035.2,286.0 L1035.7,286.3 L1036.1,283.7 L1036.6,280.3 L1037.0,278.4 L1037.5,280.2 L1037.9,277.5 L1038.4,275.3 L1038.8,276.0 L1039.3,272.8 L1039.7,274.1 L1040.1,272.5 L1040.6,271.5 L1041.0,272.0 L1041.5,272.7 L1042.0,275.1 L1042.4,275.4 L1042.9,276.9 L1043.4,277.2 L1043.8,281.3 L1044.3,282.0 L1044.8,282.7 L1045.2,284.3 L1045.7,283.3 L1046.1,285.4 L1046.5,284.5 L1046.9,285.2 L1047.4,285.6 L1047.8,286.7 L1048.2,285.7 L1048.7,285.0 L1049.1,287.0 L1049.5,287.7 L1049.9,290.9 L1050.4,292.8 L1050.8,298.8 L1051.2,299.8 L1051.6,302.7 L1052.0,306.8 L1052.5,306.8 L1052.9,311.7 L1053.3,314.8 L1053.7,315.1 L1054.2,312.7 L1054.6,310.7 L1055.1,309.5 L1055.5,308.4 L1056.0,306.0 L1056.4,305.5 L1056.9,304.7 L1057.3,304.8 L1057.8,304.1 L1058.2,305.3 L1058.7,303.0 L1059.1,302.7 L1059.5,304.2 L1060.0,305.3 L1060.4,306.0 L1060.8,308.4 L1061.2,306.7 L1061.6,305.6 L1062.1,305.7 L1062.5,303.1 L1062.9,304.1 L1063.4,307.6 L1063.8,307.2 L1064.3,311.3 L1064.8,312.2 L1065.3,313.9 L1065.7,315.0 L1066.2,316.9 L1066.6,316.1 L1067.0,310.3 L1067.5,309.9 L1067.9,305.8 L1068.3,304.1 L1068.7,302.4 L1069.1,300.2 L1069.5,295.6 L1069.9,294.5 L1070.4,292.6 L1070.8,291.2 L1071.2,291.3 L1071.7,291.7 L1072.3,308.4 L1072.7,308.1 L1073.1,310.9 L1073.5,314.6 L1074.0,313.6 L1074.4,314.8 L1074.8,317.0 L1075.2,317.3 L1075.6,317.0 L1076.0,319.2 L1076.5,319.5 L1076.9,317.7 L1077.3,319.5 L1077.7,318.9 L1078.1,321.0 L1078.5,322.5 L1079.0,321.8 L1079.4,321.3 L1079.8,322.0 L1080.3,323.9 L1080.8,320.0 L1081.2,320.2 L1081.7,323.1 L1082.2,322.0 L1082.6,324.1 L1083.1,325.1 L1083.5,329.4 L1084.0,331.1 L1084.4,334.5 L1084.8,334.1 L1085.3,335.6 L1085.7,335.3 L1086.2,334.7 L1086.6,334.9 L1087.1,338.6 L1087.5,337.3 L1088.0,339.4 L1088.4,338.0 L1088.9,338.1 L1089.3,340.7 L1089.8,341.8 L1090.2,345.4 L1090.7,347.8 L1091.2,349.2 L1091.6,352.7 L1092.1,356.5 L1092.6,358.6 L1093.0,360.7 L1093.5,362.1 L1094.0,366.4 L1094.5,370.9 L1094.9,379.0 L1095.3,379.8 L1095.7,375.6 L1096.2,375.9 L1096.6,374.4 L1097.0,373.8 L1097.4,371.5 L1097.8,367.2 L1098.2,365.7 L1098.7,362.4 L1099.1,361.6 L1099.5,359.0 L1099.9,360.1 L1100.3,358.2 L1100.8,358.6 L1101.2,355.4 L1101.6,354.0 L1102.0,355.3 L1102.5,354.7 L1103.0,353.8 L1103.4,353.4 L1103.9,351.8 L1104.4,351.6 L1104.8,351.9 L1105.3,352.2 L1105.7,352.7 L1106.2,350.1 L1106.6,350.5 L1107.1,351.9 L1107.5,350.4 L1108.0,347.4 L1108.5,345.2 L1108.9,344.1 L1109.4,343.0 L1109.9,341.2 L1110.3,343.8 L1110.8,343.8 L1111.2,341.6 L1111.7,340.7 L1112.2,340.4 L1112.6,340.8 L1113.1,341.7 L1113.5,338.8 L1114.0,339.0 L1114.4,338.3 L1114.9,335.8 L1115.3,333.8 L1115.8,335.1 L1116.2,333.1 L1116.7,334.7 L1117.1,338.7 L1117.5,342.4 L1118.0,346.7 L1118.4,344.7 L1118.8,342.2 L1119.2,342.0 L1119.7,340.2 L1120.1,340.5 L1120.5,338.0 L1121.0,337.1 L1121.4,337.4 L1121.9,335.4 L1122.3,334.7 L1122.8,332.9 L1123.3,331.3 L1123.7,331.7 L1124.2,329.4 L1124.6,330.2 L1125.1,331.6 L1125.5,330.8 L1126.0,330.9 L1126.4,329.3 L1126.9,331.7 L1127.3,330.6 L1127.8,332.3 L1128.2,333.5 L1128.6,335.4 L1129.1,339.3 L1129.5,335.9 L1129.9,334.2 L1130.3,333.8 L1130.8,330.2 L1131.2,327.2 L1131.6,326.9 L1132.0,329.2 L1132.4,329.6 L1132.8,328.7 L1133.3,330.0 L1133.7,331.6 L1134.1,334.3 L1134.6,335.7 L1135.1,339.7 L1135.5,342.0 L1136.0,342.7 L1136.5,344.2 L1137.0,339.7 L1137.5,337.1 L1137.9,333.4 L1138.4,330.6 L1138.8,332.2 L1139.2,333.2 L1139.7,337.7 L1140.1,341.0 L1140.5,342.8 L1140.9,344.2 L1141.3,341.5 L1141.8,342.1 L1142.2,339.6 L1142.6,340.6 L1143.1,338.4 L1143.5,339.3 L1143.9,337.6 L1144.3,333.8 L1144.8,333.5 L1145.2,333.1 L1145.7,336.6 L1146.1,336.6 L1146.5,338.4 L1147.0,340.5 L1147.4,338.6 L1147.8,338.3 L1148.2,337.3 L1148.7,334.0 L1149.1,334.1 L1149.5,330.6 L1149.9,332.8 L1150.3,332.7 L1150.8,337.4 L1151.2,337.7 L1151.6,338.1 L1152.0,341.7 L1152.5,345.4 L1152.9,343.5 L1153.4,347.5 L1153.8,348.9 L1154.3,352.4 L1154.7,352.2 L1155.2,354.5 L1155.7,349.0 L1156.2,345.0 L1156.6,340.3 L1157.1,337.2 L1157.5,334.8 L1158.0,331.3 L1158.5,330.2 L1158.9,326.5 L1159.4,327.2 L1159.8,329.5 L1160.2,330.8 L1160.7,333.6 L1161.2,333.4 L1161.7,330.7 L1162.1,328.6 L1162.6,325.5 L1163.1,322.9 L1163.6,323.2 L1164.0,322.9 L1164.5,326.4 L1164.9,325.7 L1165.4,326.5 L1165.8,325.8 L1166.3,327.5 L1166.7,328.5 L1167.1,332.1 L1167.5,334.0 L1168.0,332.4 L1168.4,334.8 L1168.8,333.8 L1169.3,329.7 L1169.7,328.9 L1170.1,327.5 L1170.5,324.3 L1171.0,322.8 L1171.4,319.4 L1171.9,320.1 L1172.4,319.8 L1172.8,323.0 L1173.3,324.5 L1173.8,325.3 L1174.2,325.5 L1174.7,327.9 L1175.1,329.1 L1175.5,331.3 L1176.0,327.0 L1176.5,325.8 L1176.9,323.7 L1177.4,321.7 L1177.9,319.4 L1178.4,321.6 L1178.9,321.8 L1179.3,325.6 L1179.8,326.3 L1180.3,326.5 L1180.8,328.7 L1181.3,328.2 L1181.7,328.6 L1182.2,328.6 L1182.7,328.9 L1183.2,326.5 L1183.6,321.2 L1184.1,318.6 L1184.5,315.4 L1185.0,311.1 L1185.5,312.4 L1185.9,312.6 L1186.3,312.9 L1186.8,315.8 L1187.3,312.5 L1187.8,311.9 L1188.2,311.1 L1188.7,310.2 L1189.2,307.5 L1189.8,295.0 L1190.2,298.5 L1190.6,299.4 L1191.0,302.8 L1191.5,303.3 L1191.9,299.5 L1192.4,300.1 L1192.8,296.3 L1193.3,296.8 L1193.8,297.2 L1194.2,296.3 L1194.6,296.8 L1195.1,294.4 L1195.6,293.1 L1196.1,289.5 L1196.5,287.2 L1197.0,284.0 L1197.5,280.2 L1198.0,278.5 L1198.5,274.8 L1198.9,273.8 L1199.4,273.2 L1199.9,269.5 L1200.4,271.1 L1200.8,276.7 L1201.2,277.7 L1201.7,280.2 L1202.2,279.1 L1202.6,276.8 L1203.1,277.6 L1203.5,276.0 L1204.0,276.6 L1204.5,278.4 L1204.9,280.6 L1205.3,281.8 L1205.8,281.4 L1206.3,280.9 L1206.8,279.0 L1207.2,277.0 L1207.7,278.3 L1208.2,276.6 L1208.7,280.4 L1209.2,284.6 L1209.6,286.8 L1210.1,292.4 L1210.6,294.4 L1211.1,291.8 L1211.6,290.7 L1212.0,289.0 L1212.5,289.0 L1213.0,288.6 L1213.5,285.5 L1214.0,286.7 L1214.4,291.1 L1214.8,294.1 L1215.3,295.6 L1215.9,305.1 L1216.4,306.6 L1216.9,308.6 L1217.3,313.2 L1217.8,316.9 L1218.3,318.2 L1218.8,321.6 L1219.3,322.9 L1219.7,323.6 L1220.2,325.5 L1220.7,327.7 L1221.2,331.1 L1221.6,336.0 L1222.1,336.9 L1222.5,340.1 L1223.0,344.3 L1223.4,341.8 L1223.9,340.4 L1224.3,334.4 L1224.7,330.9 L1225.1,328.3 L1225.6,327.2 L1226.0,324.1 L1226.5,327.4 L1227.0,328.6 L1227.4,331.4 L1227.9,335.9 L1228.4,338.4 L1228.8,338.0 L1229.3,337.1 L1229.7,336.3 L1230.1,332.6 L1230.5,333.3 L1231.0,333.7 L1231.4,331.3 L1231.9,333.9 L1232.4,332.1 L1232.8,335.1 L1233.3,335.0 L1233.8,336.9 L1234.3,336.0 L1234.7,335.6 L1235.2,338.2 L1235.6,339.4 L1236.0,338.6 L1236.4,337.8 L1236.9,338.9 L1237.3,340.8 L1237.8,341.1 L1238.3,342.5 L1238.7,344.4 L1239.2,347.9 L1239.7,349.1 L1240.2,344.9 L1240.7,345.0 L1241.2,342.3 L1241.6,340.0 L1242.1,337.4 L1242.6,333.6 L1243.0,336.3 L1243.5,338.9 L1244.0,340.8 L1244.4,340.8 L1244.9,337.4 L1245.3,334.9 L1245.8,327.6 L1246.2,325.3 L1246.7,324.9 L1247.2,326.0 L1247.6,327.7 L1248.1,329.6 L1248.6,331.3 L1249.0,321.6 L1249.4,313.0 L1249.8,302.8 L1250.2,302.2 L1250.7,298.0 L1251.1,297.8 L1251.5,296.6 L1252.0,294.4 L1252.5,291.3 L1252.9,287.9 L1253.4,287.5 L1253.9,284.7 L1254.3,283.2 L1254.8,283.4 L1255.2,281.6 L1255.6,282.5 L1256.0,281.4 L1256.5,276.9 L1256.9,277.6 L1257.4,280.7 L1257.8,282.6 L1258.2,283.0 L1258.7,285.9 L1259.2,285.8 L1259.6,288.7 L1260.1,289.6 L1260.5,292.5 L1261.0,293.0 L1261.5,295.9 L1261.9,294.9 L1262.3,295.8 L1262.8,297.8 L1263.2,294.5 L1263.7,292.0 L1264.1,289.1 L1264.6,284.7 L1265.0,281.7 L1265.5,277.3 L1266.0,274.2 L1266.4,271.6 L1266.8,284.1 L1267.2,293.9 L1267.6,304.9 L1268.0,298.1 L1268.4,294.5 L1268.9,288.7 L1269.3,284.7 L1269.7,282.2 L1270.1,276.7 L1270.5,275.2 L1271.0,272.4 L1271.4,269.7 L1271.8,269.3 L1272.3,267.5 L1272.8,271.7 L1273.3,272.2 L1273.7,273.8 L1274.2,278.3 L1274.7,278.8 L1275.2,279.8 L1275.6,283.5 L1276.0,288.0 L1276.5,289.4 L1276.9,289.0 L1277.3,293.7 L1277.7,294.2 L1278.1,297.5 L1278.6,300.0 L1279.0,304.8 L1279.4,309.6 L1279.8,303.9 L1280.2,298.1 L1280.6,293.0 L1281.0,293.1 L1281.5,291.2 L1281.9,291.9 L1282.3,294.9 L1282.7,292.8 L1283.2,292.9 L1283.6,293.0 L1284.0,291.0 L1284.5,291.4 L1284.9,293.8 L1285.3,292.4 L1285.7,291.3 L1286.2,289.2 L1286.6,290.6 L1287.1,290.4 L1287.6,292.2 L1288.0,291.1 L1288.5,291.9 L1289.0,291.8 L1289.4,297.9 L1289.8,301.3 L1290.3,305.7 L1290.7,309.6 L1291.2,306.6 L1291.6,305.3 L1292.0,307.2 L1292.5,304.9 L1293.0,302.4 L1293.5,302.1 L1293.9,299.8 L1294.4,298.0 L1294.9,294.2 L1295.4,294.4 L1295.9,297.6 L1296.3,297.4 L1296.8,298.6 L1297.3,297.8 L1297.8,297.8 L1298.2,301.8 L1298.7,301.7 L1299.1,305.4 L1299.6,304.9 L1300.1,308.8 L1300.6,307.6 L1301.0,310.3 L1301.5,311.6 L1302.0,314.4 L1302.5,317.5 L1302.9,320.0 L1303.3,324.8 L1303.8,327.4 L1304.2,323.5 L1304.7,321.3 L1305.1,320.1 L1305.5,316.2 L1305.9,315.1 L1306.4,314.8 L1306.8,310.8 L1307.3,312.5 L1307.8,310.0 L1308.2,309.5 L1308.7,312.9 L1309.2,313.6 L1309.7,312.0 L1310.2,314.2 L1310.6,314.1 L1311.0,316.3 L1311.5,319.1 L1312.0,321.7 L1312.4,322.7 L1312.8,319.9 L1313.3,321.4 L1313.8,323.3 L1314.2,323.6 L1314.6,326.4 L1315.1,326.3 L1315.6,327.2 L1316.0,330.2 L1316.5,329.2 L1316.9,332.1 L1317.4,333.4 L1317.9,336.5 L1318.4,336.6 L1318.8,335.3 L1319.3,336.6 L1319.8,339.3 L1320.3,340.6 L1320.8,340.2 L1321.2,340.9 L1321.7,342.1 L1322.2,342.9 L1322.7,342.5 L1323.1,343.3 L1323.5,339.7 L1324.0,340.2 L1324.5,338.3 L1324.9,338.7 L1325.3,338.7 L1325.8,337.0 L1326.3,334.6 L1326.7,335.0 L1327.2,334.9 L1327.6,331.2 L1328.1,332.2 L1328.5,327.1 L1329.0,319.4 L1329.5,313.5 L1329.9,307.3 L1330.4,312.7 L1330.8,318.4 L1331.3,320.4 L1331.8,327.2 L1332.3,330.3 L1332.8,331.5 L1333.2,336.0 L1333.7,338.9 L1334.2,342.6 L1334.7,337.1 L1335.2,334.7 L1335.7,331.8 L1336.1,329.0 L1336.6,326.5 L1337.1,321.3 L1337.6,319.8 L1338.1,319.5 L1338.5,319.3 L1339.0,319.2 L1339.5,316.5 L1340.0,316.6 L1340.5,315.1 L1340.9,310.7 L1341.4,308.5 L1341.9,308.2 L1342.4,314.7 L1342.9,316.0 L1343.3,322.3 L1343.8,328.2 L1344.3,332.0 L1344.8,330.9 L1345.2,329.2 L1345.7,330.1 L1346.1,326.4 L1346.6,326.0 L1347.1,326.7 L1347.6,328.3 L1348.0,326.0 L1348.5,327.3 L1349.0,328.4 L1349.4,328.9 L1349.9,329.7 L1350.3,328.8 L1350.7,330.3 L1351.1,329.2 L1351.6,329.8 L1352.0,332.0 L1352.5,334.2 L1352.9,336.3 L1353.4,342.4 L1353.8,342.4 L1354.3,346.2 L1354.8,341.3 L1355.3,339.3 L1355.7,335.0 L1356.2,329.1 L1356.7,326.0 L1357.1,326.0 L1357.6,323.8 L1358.0,321.5 L1358.4,321.1 L1358.8,318.2 L1359.3,316.9 L1359.7,316.5 L1360.2,315.6 L1360.7,311.5 L1361.1,310.9 L1361.6,305.7 L1362.1,304.6 L1362.6,300.2 L1363.1,297.0 L1363.5,296.8 L1364.0,293.2 L1364.5,290.0 L1365.0,285.0 L1365.4,282.1 L1365.9,282.2 L1366.3,277.9 L1366.8,274.9 L1367.3,275.0 L1367.8,270.2 L1368.2,271.0 L1368.7,267.7 L1369.2,267.8 L1369.7,267.1 L1370.1,265.0 L1370.5,263.4 L1371.0,261.3 L1371.4,264.4 L1371.8,271.4 L1372.2,273.8 L1372.8,277.0 L1373.3,283.3 L1373.8,281.8 L1374.2,284.6 L1374.6,282.5 L1375.1,284.4 L1375.5,283.9 L1376.0,286.6 L1376.5,288.6 L1376.9,289.2 L1377.4,290.9 L1377.8,290.4 L1378.3,288.0 L1378.8,290.4 L1379.2,291.4 L1379.7,288.7 L1380.1,291.4 L1380.6,289.5 L1381.1,289.9 L1381.5,288.8 L1382.0,291.0 L1382.4,292.0 L1382.9,291.1 L1383.3,292.6 L1383.8,290.9 L1384.2,289.6 L1384.6,289.9 L1385.1,290.1 L1385.5,292.8 L1385.9,289.8 L1386.4,289.4 L1386.8,290.4 L1387.2,289.3 L1387.7,290.7 L1388.1,291.5 L1388.6,291.6 L1389.0,291.0" fill="none" stroke="#d6d6d6" stroke-width="2" stroke-linejoin="round"/>
<rect x="806" y="299" width="583" height="2" fill="#000"/>
<text x="826.24" y="284.6" font-size="28.5" font-weight="700" fill="#000" textLength="265.3" lengthAdjust="spacingAndGlyphs" stroke="#fff" stroke-opacity="0.7" stroke-width="5" paint-order="stroke" stroke-linejoin="round">5-Year Average: 23.3</text>
<text x="1311.92" y="299.2" font-size="28.5" font-weight="700" fill="#000" textLength="54.14" lengthAdjust="spacingAndGlyphs" stroke="#fff" stroke-width="7" paint-order="stroke" stroke-linejoin="round">23.8</text>
<circle cx="1389" cy="291" r="12" fill="#a9bf5c"/>
<text x="113.56" y="634.8" font-size="35.7" font-weight="700" fill="#000" textLength="466.88" lengthAdjust="spacingAndGlyphs" >Sector P/E Ratio Comparison</text>
<text x="116.31" y="724.9" font-size="28.5" font-weight="400" fill="#000" textLength="124.49" lengthAdjust="spacingAndGlyphs" >Coca-Cola</text>
<text x="145.06" y="787.7" font-size="35.2" font-weight="400" fill="#000" textLength="68.03" lengthAdjust="spacingAndGlyphs" >23.8</text>
<rect x="345" y="680" width="2" height="137" fill="#dcdcdc"/>
<text x="398.23" y="724.8" font-size="28.5" font-weight="400" fill="#000" textLength="230.41" lengthAdjust="spacingAndGlyphs" >Consumer Staples</text>
<text x="479.68" y="788.0" font-size="35.2" font-weight="400" fill="#000" textLength="67.81" lengthAdjust="spacingAndGlyphs" >16.3</text>
<text x="910.82" y="634.8" font-size="35.7" font-weight="700" fill="#000" textLength="340.44" lengthAdjust="spacingAndGlyphs" >52-Week Price Range</text>
<text x="1106.65" y="706.0" font-size="27.7" font-weight="400" fill="#000" textLength="84.48" lengthAdjust="spacingAndGlyphs" >$76.50</text>
<text x="1051.88" y="743.5" font-size="27.7" font-weight="400" fill="#000" textLength="192.89" lengthAdjust="spacingAndGlyphs" >(Today, Apr 23)</text>
<text x="782.66" y="784.2" font-size="28.5" font-weight="400" fill="#999999" textLength="83.91" lengthAdjust="spacingAndGlyphs" >$65.67</text>
<text x="1296.36" y="784.2" font-size="28.5" font-weight="400" fill="#999999" textLength="84.07" lengthAdjust="spacingAndGlyphs" >$81.56</text>
<rect x="889" y="776" width="384" height="2" fill="#000"/>
<circle cx="1151" cy="776" r="12" fill="#000"/>
</svg>
</body></html>
